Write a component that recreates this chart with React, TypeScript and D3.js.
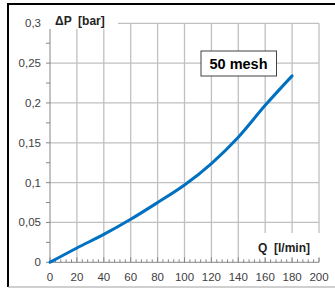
import React from 'react';
import * as d3 from 'd3';

const flow = [0, 20, 40, 60, 80, 100, 120, 140, 160, 180];
const dropBar = [0, 0.018, 0.035, 0.054, 0.075, 0.097, 0.124, 0.157, 0.197, 0.234];
const xTicks = [0, 20, 40, 60, 80, 100, 120, 140, 160, 180, 200];
const yTicks = [0, 0.05, 0.1, 0.15, 0.2, 0.25, 0.3];
const yLabels = ['0', '0,05', '0,1', '0,15', '0,2', '0,25', '0,3'];
const seriesName = '50 mesh';

const W = 335;
const H = 290;

const App = () => {
  const x = d3.scaleLinear().domain([0, 200]).range([50, 319]);
  const y = d3.scaleLinear().domain([0, 0.3]).range([262.3, 23.3]);

  const minorX = d3.range(0, 201, 4).filter(v => v % 20 !== 0);
  const minorY = d3.range(0.025, 0.3, 0.05);

  const path = d3.line<number>()
    .x((d, i) => x(flow[i]))
    .y(d => y(d))
    .curve(d3.curveMonotoneX)(dropBar);

  const grid = '#c0c0c0';
  const axis = '#868686';
  const font = '"Liberation Sans", Arial, sans-serif';

  return (
    <svg width={W} height={H} style={{ position: 'absolute', left: 0, top: 0, background: '#fff' }}>
      {/* frame */}
      <line x1={8} x2={335} y1={4} y2={4} stroke="#000" strokeWidth={2} />
      <line x1={8} x2={8} y1={3} y2={287} stroke="#000" strokeWidth={2} />
      <line x1={8} x2={335} y1={287} y2={287} stroke="#a0a0a0" strokeWidth={1} />

      {/* grid */}
      {xTicks.filter(v => v > 0).map(v => (
        <line key={'gx' + v} x1={x(v)} x2={x(v)} y1={y(0.3)} y2={y(0)} stroke={grid} strokeWidth={1.3} />
      ))}
      {yTicks.filter(v => v > 0).map(v => (
        <line key={'gy' + v} x1={x(0)} x2={x(200)} y1={y(v)} y2={y(v)} stroke={grid} strokeWidth={1.3} />
      ))}

      {/* axis label boxes */}
      <rect x={49} y={12} width={69} height={17} fill="#fff" />
      <rect x={250} y={233} width={72} height={25} fill="#fff" />

      {/* axes */}
      <line x1={x(0)} x2={x(0)} y1={29} y2={y(0)} stroke={axis} />
      <line x1={x(0)} x2={x(200)} y1={y(0)} y2={y(0)} stroke={axis} />
      {xTicks.map(v => (
        <line key={'tx' + v} x1={x(v)} x2={x(v)} y1={y(0)} y2={y(0) - 5} stroke={axis} />
      ))}
      {minorX.map(v => (
        <line key={'mx' + v} x1={x(v)} x2={x(v)} y1={y(0)} y2={y(0) - 3} stroke={axis} />
      ))}
      {yTicks.filter(v => v < 0.3).map(v => (
        <line key={'ty' + v} x1={x(0) - 4} x2={x(0)} y1={y(v)} y2={y(v)} stroke={axis} />
      ))}
      {minorY.map(v => (
        <line key={'my' + v} x1={x(0) - 4} x2={x(0)} y1={y(v)} y2={y(v)} stroke={axis} />
      ))}

      {/* tick labels */}
      {xTicks.map(v => (
        <text key={'lx' + v} x={x(v)} y={281} textAnchor="middle" fontSize={11.5} fill="#404040" fontFamily={font}>
          {v}
        </text>
      ))}
      {yTicks.map((v, i) => (
        <text key={'ly' + v} x={41} y={y(v) + 4} textAnchor="end" fontSize={11.5} fill="#404040" fontFamily={font}>
          {yLabels[i]}
        </text>
      ))}

      {/* axis titles */}
      <text x={55} y={25} fontSize={12} fontWeight="bold" fill="#222" fontFamily={font} style={{ whiteSpace: 'pre' }}>
        {'ΔP  [bar]'}
      </text>
      <text x={258} y={252} fontSize={12} fontWeight="bold" fill="#222" fontFamily={font} style={{ whiteSpace: 'pre' }}>
        {'Q  [l/min]'}
      </text>

      {/* series */}
      <path d={path ?? ''} fill="none" stroke="#0070c0" strokeWidth={3} strokeLinecap="round" />

      {/* legend box */}
      <rect x={201} y={51} width={75.5} height={25} fill="#fff" stroke="#404040" strokeWidth={1} />
      <text x={238.5} y={69} textAnchor="middle" fontSize={14.5} fontWeight="bold" fill="#000" fontFamily={font}>
        {seriesName}
      </text>
    </svg>
  );
};

export default App;
